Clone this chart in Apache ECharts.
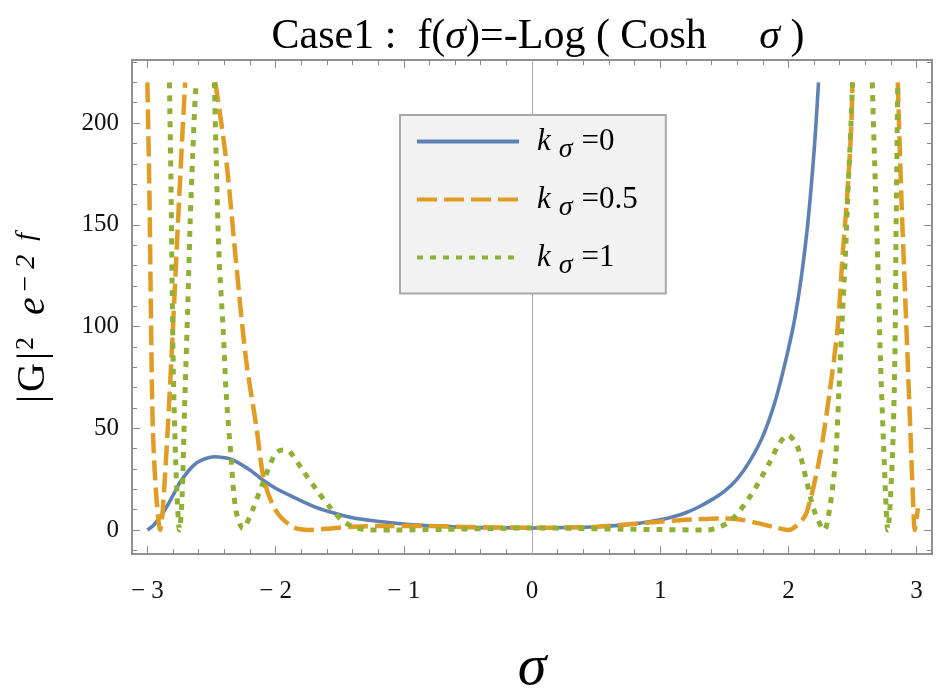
<!DOCTYPE html>
<html>
<head>
<meta charset="UTF-8">
<title>Case1</title>
<script src="https://cdn.jsdelivr.net/npm/echarts@6/dist/echarts.min.js"></script>
<style>
body,html{ padding:0; margin:0; background:#fff;}
#chart{ width:938px; height:700px;}
</style>
</head>
<body>
<div id="chart"></div>
<script>
// k_sigma = 0
var sigma0 = [-3.0, -2.95, -2.88, -2.8, -2.75, -2.68, -2.62, -2.55, -2.48, -2.4, -2.33, -2.2, -2.1, -2.0, -1.87, -1.7, -1.58, -1.4, -1.27, -1.1, -0.93, -0.7, -0.5, -0.25, 0, 0.25, 0.5, 0.7, 0.85, 1.0, 1.1, 1.2, 1.3, 1.4, 1.5, 1.6, 1.7, 1.8, 1.9, 2.0, 2.05, 2.1, 2.15, 2.2, 2.235];
var g0 = [0, 2.5, 8.2, 17, 23, 29, 32.8, 35, 36, 35.5, 34.4, 29.5, 24.6, 20.5, 16.4, 11.5, 9.0, 6.0, 4.8, 3.6, 2.6, 1.8, 1.3, 1.1, 1.0, 1.2, 1.6, 2.4, 3.4, 5.0, 6.5, 8.5, 11.3, 14.8, 19, 25, 34, 46, 64, 89, 104, 124, 150, 186, 220];

// k_sigma = 0.5  (null = above the plot range)
var sigma05 = [-3.0, -2.984, -2.971, -2.958, -2.932, -2.9, -2.88, -2.84, -2.8, -2.763, -2.724, -2.705, -2.6, -2.47, -2.385, -2.31, -2.23, -2.15, -2.09, -2.0, -1.87, -1.74, -1.6, -1.4, -1.1, -0.87, -0.5, 0, 0.5, 0.84, 1.1, 1.3, 1.49, 1.62, 1.75, 1.88, 2.0, 2.07, 2.14, 2.24, 2.32, 2.385, 2.42, 2.46, 2.49, 2.5, 2.7, 2.853, 2.88, 2.92, 2.95, 2.97, 2.986, 3.0, 3.01];
var g05 = [220, 165, 100, 51, 18, 0, 10, 51, 100, 149, 198, 220, null, 220, 181.8, 132.7, 83.5, 50.8, 24.6, 9.8, 1.6, 0, 0.6, 1.6, 2.0, 2.0, 1.5, 1.1, 1.6, 3.3, 4.6, 5.3, 5.7, 5.2, 3.5, 1.6, 0, 2.5, 8.2, 34.4, 67, 100, 132.7, 165.5, 198, 220, null, 220, 165.5, 100, 50.8, 18, 0, 6, 10.7];

// k_sigma = 1
var sigma1 = [-3.0, -2.828, -2.815, -2.807, -2.797, -2.78, -2.763, -2.75, -2.73, -2.71, -2.685, -2.667, -2.646, -2.625, -2.615, -2.55, -2.477, -2.463, -2.44, -2.41, -2.385, -2.346, -2.31, -2.255, -2.18, -2.1, -2.0, -1.94, -1.89, -1.79, -1.68, -1.58, -1.45, -1.27, -1.06, -0.7, -0.3, 0, 0.3, 0.7, 1.0, 1.36, 1.54, 1.7, 1.85, 1.93, 1.995, 2.07, 2.14, 2.2, 2.28, 2.32, 2.367, 2.393, 2.417, 2.443, 2.464, 2.487, 2.5, 2.58, 2.654, 2.672, 2.697, 2.718, 2.742, 2.763, 2.775, 2.81, 2.83, 2.84, 2.853, 3.0];
var g1 = [null, 220, 165, 120, 75, 35, 10, 0, 15, 60, 110, 150, 185, 215, 220, null, 220, 181.8, 132.7, 100, 67, 34.4, 9.8, 0.8, 9.8, 23, 37.7, 39.3, 38.5, 29.5, 19.7, 11.5, 3.3, 0, 0, 0.3, 0.7, 1.0, 0.8, 0.4, 0.2, 0, 4.1, 16.4, 32.8, 42.6, 46.7, 41, 24.6, 9.8, 0, 9.8, 34.4, 67, 100, 132.7, 165.5, 198, 220, null, 220, 181.8, 132.7, 83.5, 42.6, 9.8, 0, 34.4, 83.5, 149, 220, null];

var xTicks = [-3, -2, -1, 0, 1, 2, 3];
var yTicks = [0, 50, 100, 150, 200];

var names = ['k0', 'k05', 'k1'];
var legendVal = {k0: '0', k05: '0.5', k1: '1'};

function pairs(xs, ys) {
    var out = [];
    for (var i = 0; i < xs.length; i++) {
        out.push([xs[i], ys[i] === null ? '-' : ys[i]]);
    }
    return out;
}
function minorList(a, b, step) {
    var out = [];
    for (var v = a; v <= b + 1e-9; v += step) out.push(Math.round(v * 1000) / 1000);
    return out;
}

var serif = 'Liberation Serif';
var frame = '#8a8a8a';

function xAx(pos, ticks, len, labels) {
    return {
        type: 'value', position: pos, min: -3.12, max: 3.12,
        axisLine: {show: true, onZero: false, lineStyle: {color: frame, width: 1.5}},
        axisTick: {show: true, inside: true, length: len, customValues: ticks, lineStyle: {color: frame, width: 1}},
        axisLabel: labels ? {
            show: true, customValues: xTicks, margin: 25, color: '#111',
            fontFamily: serif, fontSize: 25,
            formatter: function (v) { return v < 0 ? '\u2212 ' + (-v) : '' + v; }
        } : {show: false},
        splitLine: {show: false}
    };
}
function yAx(pos, ticks, len, labels) {
    return {
        type: 'value', position: pos, min: -11.8, max: 231,
        axisLine: {show: true, onZero: false, lineStyle: {color: frame, width: 1.5}},
        axisTick: {show: true, inside: true, length: len, customValues: ticks, lineStyle: {color: frame, width: 1}},
        axisLabel: labels ? {
            show: true, customValues: yTicks, margin: 13, color: '#111',
            fontFamily: serif, fontSize: 25
        } : {show: false},
        splitLine: {show: false}
    };
}

var xMinor = minorList(-3, 3, 0.2);
var yMinor = minorList(-10, 230, 10);

var xBottom = xAx('bottom', xTicks, 8, true);
xBottom.name = '{s|\u03c3}';
xBottom.nameLocation = 'middle';
xBottom.nameGap = 86;
xBottom.nameTextStyle = {rich: {s: {fontFamily: serif, fontStyle: 'italic', fontSize: 58, color: '#000'}}};

var yLeft = yAx('left', yTicks, 8, true);
yLeft.name = '{g|\u007c}{gg|G}{g|\u007c}{p|2}{e|e}{q|\u2212\u20092  f}';
yLeft.nameLocation = 'middle';
yLeft.nameRotate = 90;
yLeft.nameGap = 79;
yLeft.nameTextStyle = {padding: [0, 22, 0, 0], rich: {
    g: {fontFamily: serif, fontSize: 40, color: '#000', verticalAlign: 'bottom'},
    gg: {fontFamily: serif, fontSize: 40, color: '#000', verticalAlign: 'bottom', padding: [0, 3, 0, 3]},
    p: {fontFamily: serif, fontSize: 26, color: '#000', verticalAlign: 'top', padding: [0, 22, 0, 2]},
    e: {fontFamily: serif, fontStyle: 'italic', fontSize: 40, color: '#000', verticalAlign: 'bottom'},
    q: {fontFamily: serif, fontStyle: 'italic', fontSize: 28, color: '#000', verticalAlign: 'top', padding: [0, 0, 0, 4]}
}};

var colors = ['#5e81b5', '#e19c24', '#8fb032'];

var myChart = echarts.init(document.getElementById('chart'), null, {renderer: 'canvas'});

var option = {
    animation: false,
    backgroundColor: '#fff',
    title: {
        text: '{t|Case1 :  f(}{i|\u03c3}{t|)=-Log ( Cosh     }{i|\u03c3}{t| )}',
        left: 533, textAlign: 'center', top: 11,
        textStyle: {rich: {
            t: {fontFamily: serif, fontSize: 42, fontWeight: 'normal', color: '#000'},
            i: {fontFamily: serif, fontStyle: 'italic', fontSize: 42, fontWeight: 'normal', color: '#000'}
        }}
    },
    grid: {left: 132, right: 6, top: 60, bottom: 146, outerBoundsMode: 'none'},
    legend: {
        orient: 'vertical', left: 400, top: 115,
        padding: [11, 28, 14, 15],
        itemWidth: 102, itemHeight: 30, itemGap: 20.5,
        backgroundColor: '#f2f2f2', borderColor: '#a8a8a8', borderWidth: 2,
        itemStyle: {opacity: 0},
        lineStyle: {width: 4, cap: 'butt'},
        data: names,
        formatter: function (n) { return '{k|k}{s|\u03c3}{eq|=' + legendVal[n] + '}'; },
        textStyle: {rich: {
            k: {fontFamily: serif, fontStyle: 'italic', fontSize: 31, color: '#000', padding: [0, 8, 0, 13]},
            s: {fontFamily: serif, fontStyle: 'italic', fontSize: 28, color: '#000', padding: [16, 9, 0, 0]},
            eq: {fontFamily: serif, fontSize: 31, color: '#000'}
        }}
    },
    xAxis: [
        xBottom,
        xAx('bottom', xMinor, 5, false),
        xAx('top', xTicks, 8, false),
        xAx('top', xMinor, 5, false)
    ],
    yAxis: [
        yLeft,
        yAx('left', yMinor, 5, false),
        yAx('right', yTicks, 8, false),
        yAx('right', yMinor, 5, false)
    ],
    series: [
        {
            name: 'k0', type: 'line', data: pairs(sigma0, g0), showSymbol: false, symbol: 'none',
            smooth: 0.3, connectNulls: false, color: colors[0],
            lineStyle: {width: 3.6, color: colors[0]}, z: 3,
            markLine: {
                silent: true, symbol: 'none', label: {show: false},
                lineStyle: {color: '#b0b0b0', width: 1, type: 'solid'},
                data: [{xAxis: 0}], z: 1
            }
        },
        {
            name: 'k05', type: 'line', data: pairs(sigma05, g05), showSymbol: false, symbol: 'none',
            smooth: 0.3, connectNulls: false, color: colors[1],
            lineStyle: {width: 4.5, color: colors[1], type: [20, 7], cap: 'butt'}, z: 4
        },
        {
            name: 'k1', type: 'line', data: pairs(sigma1, g1), showSymbol: false, symbol: 'none',
            smooth: 0.3, connectNulls: false, color: colors[2],
            lineStyle: {width: 5, color: colors[2], type: [6, 7], cap: 'butt'}, z: 5
        }
    ]
};

myChart.setOption(option);
</script>
</body>
</html>
